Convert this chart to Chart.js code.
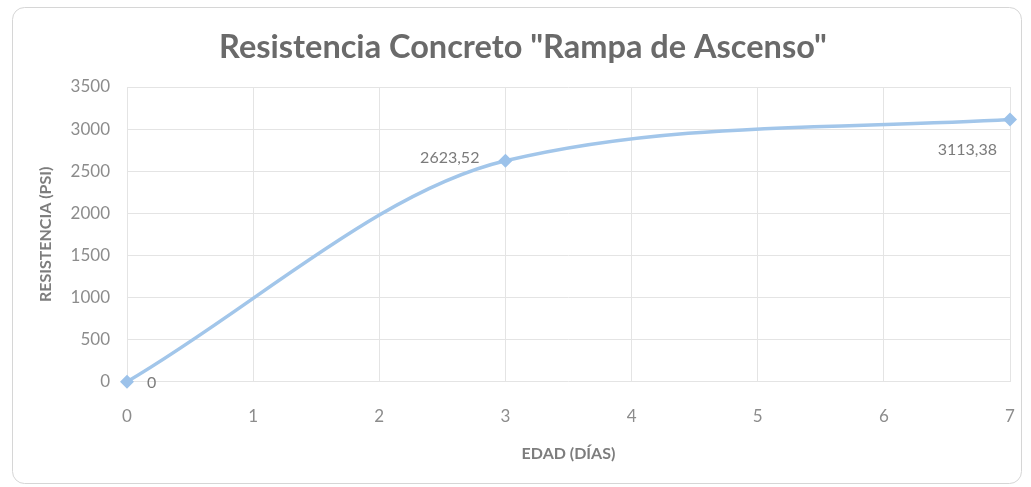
<!DOCTYPE html>
<html lang="es">
<head>
<meta charset="utf-8">
<title>Resistencia Concreto "Rampa de Ascenso"</title>
<script src="https://cdn.jsdelivr.net/npm/chart.js@4/dist/chart.umd.min.js"></script>
<style>
  html, body { margin: 0; padding: 0; background: #ffffff; }
  #wrap { position: relative; width: 1031px; height: 487px; }
  canvas { display: block; }
</style>
</head>
<body>
<div id="wrap"><canvas id="grafico" width="1031" height="487"></canvas></div>
<script>
// Ensayos de compresión: edad de la muestra (días) y resistencia (PSI)
const edadDias = [0, 3, 7];
const resistenciaPsi = [0, 2623.52, 3113.38];

// Ejes
const ejeXMin = 0, ejeXMax = 7, ejeXPaso = 1;
const ejeYMin = 0, ejeYMax = 3500, ejeYPaso = 500;

const tituloGrafico = 'Resistencia Concreto "Rampa de Ascenso"';
const tituloEjeX = 'EDAD (DÍAS)';
const tituloEjeY = 'RESISTENCIA (PSI)';

// Ubicación de cada etiqueta de dato respecto a su marcador
const ubicacionEtiquetas = [
  { align: 'left',  dx: 20,  dy: 1 },
  { align: 'right', dx: -26, dy: -3 },
  { align: 'right', dx: -13, dy: 30 }
];

const FUENTE = 'Lato, "Open Sans", sans-serif';
const AZUL = '#a2c6ea';

function formatoValor(v) {
  return v === 0 ? '0' : v.toFixed(2).replace('.', ',');
}

const puntos = edadDias.map((x, i) => ({ x: x, y: resistenciaPsi[i] }));

// Marco redondeado del área del gráfico
const marco = {
  id: 'marco',
  beforeDraw(chart) {
    const ctx = chart.ctx;
    ctx.save();
    ctx.fillStyle = '#ffffff';
    ctx.fillRect(0, 0, chart.width, chart.height);
    ctx.beginPath();
    ctx.roundRect(12.5, 7.5, 1009, 476, 12);
    ctx.strokeStyle = '#d6d6d6';
    ctx.lineWidth = 1;
    ctx.stroke();
    ctx.restore();
  }
};

// Etiquetas con el valor de cada punto
const etiquetas = {
  id: 'etiquetas',
  afterDatasetsDraw(chart) {
    const ctx = chart.ctx;
    const meta = chart.getDatasetMeta(0);
    ctx.save();
    ctx.font = '16px ' + FUENTE;
    ctx.fillStyle = '#7b7b7b';
    ctx.textBaseline = 'middle';
    meta.data.forEach((p, i) => {
      const u = ubicacionEtiquetas[i];
      ctx.textAlign = u.align;
      ctx.fillText(formatoValor(resistenciaPsi[i]), p.x + u.dx, p.y + u.dy);
    });
    ctx.restore();
  }
};

new Chart(document.getElementById('grafico'), {
  type: 'scatter',
  data: {
    datasets: [{
      data: puntos,
      showLine: true,
      cubicInterpolationMode: 'monotone',
      borderColor: AZUL,
      borderWidth: 3.5,
      backgroundColor: '#9cc2ea',
      pointStyle: 'rectRot',
      pointRadius: 7,
      pointHoverRadius: 7,
      pointBorderWidth: 0,
      clip: false
    }]
  },
  options: {
    responsive: false,
    animation: false,
    events: [],
    layout: { padding: { left: 36, right: 21, top: 0, bottom: 0 } },
    plugins: {
      legend: { display: false },
      tooltip: { enabled: false },
      title: {
        display: true,
        text: tituloGrafico,
        color: '#6a6a6a',
        font: { family: FUENTE, size: 32.5, weight: 'bold' },
        padding: { top: 28, bottom: 20 }
      }
    },
    scales: {
      x: {
        type: 'linear',
        min: ejeXMin, max: ejeXMax,
        afterFit(scale) { scale.height = 105.3; },
        grid: { color: '#e4e4e4', drawTicks: true, tickLength: 25, tickColor: 'rgba(0,0,0,0)' },
        border: { display: false },
        ticks: {
          stepSize: ejeXPaso,
          padding: 0,
          color: '#8c8c8c',
          font: { family: FUENTE, size: 17 },
          callback: (v) => String(v)
        },
        title: {
          display: true,
          text: tituloEjeX,
          color: '#7d7d7d',
          font: { family: FUENTE, size: 16, weight: 'bold' },
          padding: { top: 0, bottom: 23.6 }
        }
      },
      y: {
        min: ejeYMin, max: ejeYMax,
        afterFit(scale) { scale.width = 91; },
        grid: { color: '#e4e4e4', drawTicks: false },
        border: { display: false },
        ticks: {
          stepSize: ejeYPaso,
          padding: 17,
          color: '#8c8c8c',
          font: { family: FUENTE, size: 17 },
          callback: (v) => String(v)
        },
        title: {
          display: true,
          text: tituloEjeY,
          color: '#7d7d7d',
          font: { family: FUENTE, size: 16, weight: 'bold' },
          padding: { top: 0, bottom: 0 }
        }
      }
    }
  },
  plugins: [marco, etiquetas]
});
</script>
</body>
</html>
